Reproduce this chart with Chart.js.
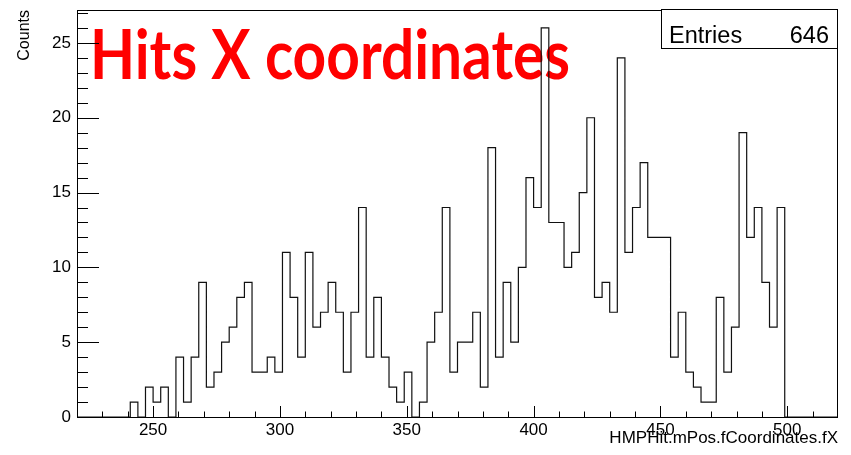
<!DOCTYPE html>
<html>
<head>
<meta charset="utf-8">
<script src="https://cdn.jsdelivr.net/npm/chart.js@4.4.1/dist/chart.umd.min.js"></script>
<style>
    body { margin: 0; background: #fff; }
    #wrap { width: 851px; height: 455px; }
</style>
</head>
<body>
<div id="wrap"><canvas id="histChart" width="851" height="455"></canvas></div>
<script>
// histogram binning: 100 bins of width 3 from 220 to 520
const binLow = 220;
const binWidth = 3;
const counts = [
    0, 0, 0, 0, 0, 0, 0, 1, 0, 2,
    1, 2, 0, 4, 1, 4, 9, 2, 3, 5,
    6, 8, 9, 3, 3, 4, 3, 11, 8, 4,
    11, 6, 7, 9, 7, 3, 7, 14, 4, 8,
    4, 2, 1, 3, 0, 1, 5, 7, 14, 3,
    5, 5, 7, 2, 18, 4, 9, 5, 10, 16,
    14, 26, 13, 13, 10, 11, 15, 20, 8, 9,
    7, 24, 11, 14, 17, 12, 12, 12, 4, 7,
    3, 2, 1, 1, 8, 3, 6, 19, 12, 14,
    9, 6, 14, 0, 0, 0, 0, 0, 0, 0
];
const entries = 646;
const xRange = [220, 520];
const yRange = [0, 27.2];
const xTickLabels = [250, 300, 350, 400, 450, 500];
const yTickLabels = [0, 5, 10, 15, 20, 25];
const xMinorStep = 10;
const yMinorStep = 1;

const histTitle = 'Hits X coordinates';
const xTitle = 'HMPHit.mPos.fCoordinates.fX';
const yTitle = 'Counts';

// step outline: first point at each bin's low edge, last one closes the upper edge
const points = counts.map((c, i) => ({ x: binLow + i * binWidth, y: c }));
points.unshift({ x: binLow, y: 0 });
points.push({ x: binLow + counts.length * binWidth, y: 0 });

const axisFont = { family: 'Liberation Sans, Arial, sans-serif', size: 17 };

const titlePlugin = {
    id: 'histTitle',
    beforeDatasetsDraw(chart) {
        const ctx = chart.ctx;
        ctx.save();
        ctx.fillStyle = '#ff0000';
        ctx.font = 'bold 68px Lato, "Open Sans", sans-serif';
        ctx.textAlign = 'left';
        ctx.textBaseline = 'alphabetic';
        ctx.fillText(histTitle, 90, 79, 480);
        ctx.restore();
    }
};

const framePlugin = {
    id: 'rootFrame',
    afterDatasetsDraw(chart) {
        const ctx = chart.ctx;
        const area = chart.chartArea;
        const xs = chart.scales.x;
        const ys = chart.scales.y;
        ctx.save();
        ctx.strokeStyle = '#000';
        ctx.lineWidth = 1;
        ctx.strokeRect(area.left + 0.5, area.top + 0.5, area.right - area.left - 1, area.bottom - area.top);

        ctx.beginPath();
        // x ticks, pointing up into the frame
        for (let v = xRange[0] + xMinorStep; v < xRange[1]; v += xMinorStep) {
            const px = Math.round(xs.getPixelForValue(v)) + 0.5;
            const len = xTickLabels.includes(v) ? 11 : 5.5;
            ctx.moveTo(px, area.bottom);
            ctx.lineTo(px, area.bottom - len);
        }
        // y ticks, pointing right into the frame
        for (let v = yRange[0] + yMinorStep; v < yRange[1]; v += yMinorStep) {
            const py = Math.round(ys.getPixelForValue(v)) + 0.5;
            const len = yTickLabels.includes(v) ? 22 : 11;
            ctx.moveTo(area.left, py);
            ctx.lineTo(area.left + len, py);
        }
        ctx.stroke();

        // stats box
        const bx = 661, by = 9, bw = 177, bh = 39;
        ctx.fillStyle = '#fff';
        ctx.fillRect(bx, by, bw, bh);
        ctx.strokeRect(bx + 0.5, by + 0.5, bw - 1, bh);
        ctx.fillStyle = '#000';
        ctx.font = '23.5px "Liberation Sans", Arial, sans-serif';
        ctx.textBaseline = 'alphabetic';
        ctx.textAlign = 'left';
        ctx.fillText('Entries', 669, 43);
        ctx.textAlign = 'right';
        ctx.fillText(String(entries), 829, 43);
        ctx.restore();
    }
};

const ctx = document.getElementById('histChart').getContext('2d');
new Chart(ctx, {
    type: 'line',
    data: {
        datasets: [{
            label: 'Hits X',
            data: points,
            stepped: 'before',
            borderColor: '#111',
            borderWidth: 1.2,
            pointRadius: 0,
            fill: false
        }]
    },
    options: {
        responsive: false,
        animation: false,
        layout: { padding: { left: 0, top: 10, right: 13, bottom: 0 } },
        plugins: {
            legend: { display: false },
            tooltip: { enabled: false }
        },
        scales: {
            x: {
                type: 'linear',
                min: xRange[0],
                max: xRange[1],
                grid: { display: false, drawTicks: false },
                border: { display: false },
                afterBuildTicks: (scale) => { scale.ticks = xTickLabels.map(v => ({ value: v })); },
                afterFit: (scale) => {
                    scale.height = 38;
                    scale.paddingLeft = 0;
                    scale.paddingRight = 0;
                },
                ticks: { color: '#000', font: axisFont, padding: 3, maxRotation: 0, autoSkip: false },
                title: {
                    display: true, text: xTitle, align: 'end', color: '#000',
                    font: axisFont, padding: { top: 0, bottom: 6 }
                }
            },
            y: {
                min: yRange[0],
                max: yRange[1],
                grid: { display: false, drawTicks: false },
                border: { display: false },
                afterBuildTicks: (scale) => { scale.ticks = yTickLabels.map(v => ({ value: v })); },
                afterFit: (scale) => {
                    scale.width = 77;
                    scale.paddingTop = 0;
                    scale.paddingBottom = 0;
                },
                ticks: { color: '#000', font: axisFont, padding: 6 },
                title: {
                    display: true, text: yTitle, align: 'end', color: '#000',
                    font: { family: 'Liberation Sans, Arial, sans-serif', size: 16 },
                    padding: { top: 15, bottom: 0 }
                }
            }
        }
    },
    plugins: [titlePlugin, framePlugin]
});
</script>
</body>
</html>
